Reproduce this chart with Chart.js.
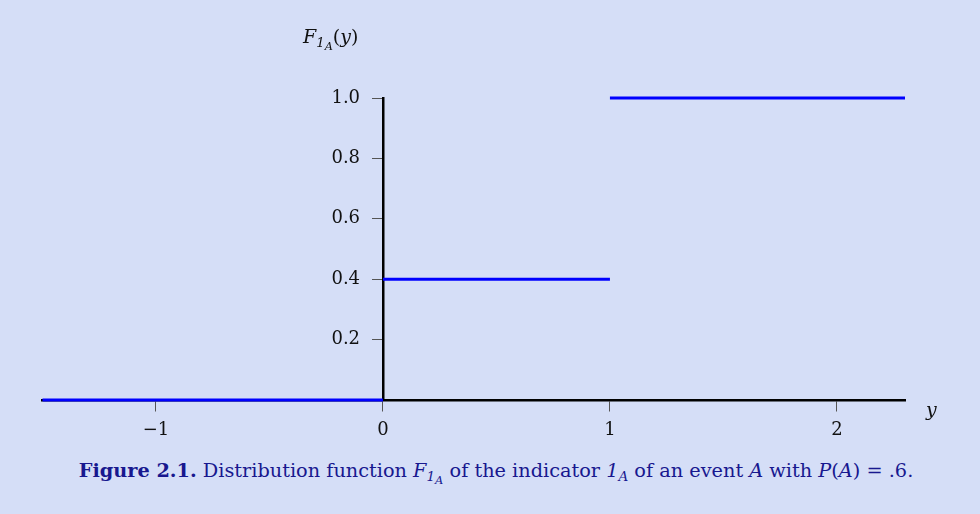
<!DOCTYPE html>
<html>
<head>
<meta charset="utf-8">
<script src="https://cdn.jsdelivr.net/npm/chart.js@4.4.1/dist/chart.umd.min.js"></script>
<style>
  html, body { margin: 0; padding: 0; background: #d5def7; }
  #wrap { position: relative; width: 980px; height: 514px; font-family: "DejaVu Serif", serif; }
  #chartBox { position: absolute; left: 0; top: 0; width: 980px; height: 450px; }
  .lbl { position: absolute; color: #111; font-size: 19px; white-space: nowrap; line-height: 1; }
  .lbl i, #caption i { font-style: italic; }
  sub { font-size: 0.7em; vertical-align: -0.3em; line-height: 0; }
  sub sub { font-size: 0.85em; vertical-align: -0.25em; }
  #caption { position: absolute; left: 6px; width: 980px; top: 459px; text-align: center;
             color: #18188f; font-size: 19.3px; white-space: nowrap; line-height: 1.2; }
</style>
</head>
<body>
<div id="wrap">
  <div id="chartBox"><canvas id="cdfChart"></canvas></div>
  <div class="lbl" id="yTitle" style="left:303px; top:27px;"><i>F</i><sub><i>1</i><sub><i>A</i></sub></sub>(<i>y</i>)</div>
  <div class="lbl" id="xTitle" style="left:926px; top:400px;"><i>y</i></div>
  <div id="caption"><b>Figure 2.1.</b> Distribution function <i>F</i><sub><i>1</i><sub><i>A</i></sub></sub> of the indicator <i>1</i><sub><i>A</i></sub> of an event <i>A</i> with <i>P</i>(<i>A</i>) = .6.</div>
</div>
<script>
// step function of the indicator, P(A) = .6
const xMin = -1.5;
const xMax = 2.3;
const jumps = [0, 1];          // where F jumps
const levels = [0, 0.4, 1.0];  // value of F on each piece
const xTicks = [-1, 0, 1, 2];
const yTicks = [0.2, 0.4, 0.6, 0.8, 1.0];

document.addEventListener('DOMContentLoaded', () => {
  const ctx = document.getElementById('cdfChart').getContext('2d');
  const edges = [xMin, ...jumps, xMax];

  const datasets = levels.map((lv, i) => ({
    data: [{ x: edges[i], y: lv }, { x: edges[i + 1], y: lv }],
    borderColor: '#0000ff',
    borderWidth: 3,
    pointRadius: 0,
    fill: false,
    clip: false
  }));

  new Chart(ctx, {
    type: 'line',
    data: { datasets },
    options: {
      responsive: true,
      maintainAspectRatio: false,
      animation: false,
      layout: { padding: { left: 42.5, right: 75, top: 98, bottom: 50 } },
      plugins: { legend: { display: false }, tooltip: { enabled: false } },
      scales: {
        x: {
          type: 'linear',
          min: xMin,
          max: xMax,
          position: { y: 0 },
          afterBuildTicks: s => { s.ticks = xTicks.map(v => ({ value: v })); },
          grid: { drawOnChartArea: false, drawTicks: true, tickLength: 10, color: '#555', lineWidth: 1 },
          border: { display: true, color: '#000', width: 2.5 },
          ticks: {
            color: '#111',
            padding: 10,
            maxRotation: 0,
            font: { family: 'DejaVu Serif', size: 18 },
            callback: v => v < 0 ? '\u2212' + Math.abs(v) : String(v)
          }
        },
        y: {
          type: 'linear',
          min: 0,
          max: 1,
          position: { x: 0 },
          afterBuildTicks: s => { s.ticks = yTicks.map(v => ({ value: v })); },
          grid: { drawOnChartArea: false, drawTicks: true, tickLength: 10, color: '#555', lineWidth: 1 },
          border: { display: true, color: '#000', width: 2.5 },
          ticks: {
            color: '#111',
            font: { family: 'DejaVu Serif', size: 18 },
            // axis placed at x = 0 ignores padding, so pad the label text itself
            callback: v => v.toFixed(1) + '    '
          }
        }
      }
    }
  });
});
</script>
</body>
</html>
